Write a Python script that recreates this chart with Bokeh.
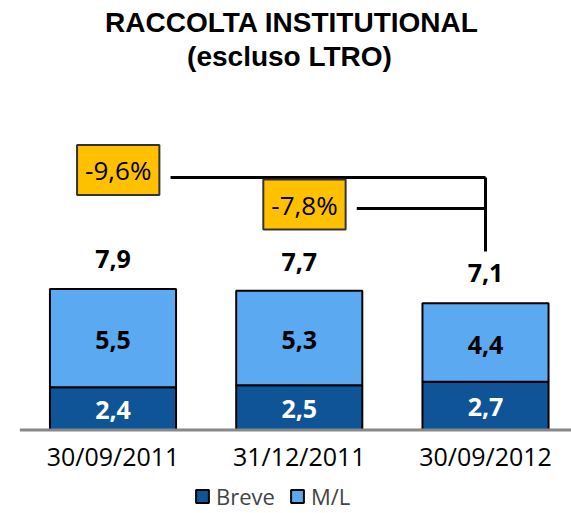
from bokeh.plotting import figure
from bokeh.models import ColumnDataSource, Label
from bokeh.core.properties import value
from bokeh.embed import file_html
from bokeh.resources import INLINE

# ---- data ----
dates = ["30/09/2011", "31/12/2011", "30/09/2012"]
breve = [2.4, 2.5, 2.7]
ml = [5.5, 5.3, 4.4]
totals = [7.9, 7.7, 7.1]
pct_labels = ["-9,6%", "-7,8%"]
pct_from = [0, 1]   # category index where each comparison starts
pct_to = 2          # category index compared against

DARK = "#0F5496"
LIGHT = "#5BA9F0"
GOLD = "#FFC000"

def fmt(v):
    return f"{v:.1f}".replace(".", ",")

W, H = 571, 513
p = figure(width=W, height=H, output_backend="svg", toolbar_location=None,
           x_range=(-0.604, 2.4617), y_range=(-4.678, 24.062),
           x_axis_type=None, y_axis_type=None, min_border=0,
           tools="")
p.grid.visible = False
p.outline_line_color = None

xs = list(range(len(dates)))
src = ColumnDataSource(dict(x=xs, breve=breve, ml=ml))
p.vbar_stack(["breve", "ml"], x="x", width=0.677, source=src,
             fill_color=[DARK, LIGHT], line_color="black", line_width=2,
             legend_label=["Breve", "M/L"])

# baseline
p.segment(x0=[-0.5], y0=[0], x1=[len(dates) - 0.4], y1=[0],
          line_color="#888888", line_width=3)

# segment labels
p.text(x=xs, y=[b / 2 - 0.08 for b in breve], text=[fmt(v) for v in breve],
       text_font=value("Open Sans"), text_font_style="bold", text_font_size="25px",
       text_color="white", text_align="center", text_baseline="middle")
p.text(x=xs, y=[b + m / 2 - 0.12 for b, m in zip(breve, ml)], text=[fmt(v) for v in ml],
       text_font=value("Open Sans"), text_font_style="bold", text_font_size="25px",
       text_color="black", text_align="center", text_baseline="middle")
# totals
p.text(x=xs, y=[t + 1.7 for t in totals], text=[fmt(v) for v in totals],
       text_font=value("Open Sans"), text_font_style="bold", text_font_size="25px",
       text_color="black", text_align="center", text_baseline="middle")
# category labels
p.text(x=xs, y=[-1.45] * len(dates), text=dates,
       text_font=value("Open Sans"), text_font_size="25px",
       text_color="black", text_align="center", text_baseline="middle")

# comparison brackets
line_y = [14.15, 12.41]
box_y = [14.57, 12.63]
p.segment(x0=[i + 0.309 for i in pct_from], y0=line_y,
          x1=[pct_to] * len(pct_from), y1=line_y,
          line_color="black", line_width=3)
p.segment(x0=[pct_to], y0=[max(line_y)], x1=[pct_to], y1=[totals[pct_to] + 2.9],
          line_color="black", line_width=3)
for i, lab, by in zip(pct_from, pct_labels, box_y):
    p.add_layout(Label(x=i + 0.028, y=by, text=lab, text_font="Open Sans",
                       text_font_size="26px", text_color="black",
                       text_align="center", text_baseline="middle",
                       background_fill_color=GOLD, border_line_color="#333333",
                       border_line_width=2, padding=(8, 7)))

# title
p.add_layout(Label(x=291.5, y=491.5, x_units="screen", y_units="screen",
                   text="RACCOLTA INSTITUTIONAL", text_font="Liberation Sans",
                   text_font_style="bold", text_font_size="28px",
                   text_align="center", text_baseline="middle", text_color="black"))
p.add_layout(Label(x=289, y=457, x_units="screen", y_units="screen",
                   text="(escluso LTRO)", text_font="Liberation Sans",
                   text_font_style="bold", text_font_size="28px",
                   text_align="center", text_baseline="middle", text_color="black"))

lg = p.legend[0]
lg.location = (194, 2)
lg.orientation = "horizontal"
lg.padding = 0
lg.margin = 0
lg.spacing = 14
lg.label_standoff = 6
lg.glyph_width = 16
lg.glyph_height = 16
lg.border_line_color = None
lg.background_fill_alpha = 0
lg.label_text_font = "Open Sans"
lg.label_text_font_size = "22px"

open("out.html", "w").write(file_html(p, INLINE))
